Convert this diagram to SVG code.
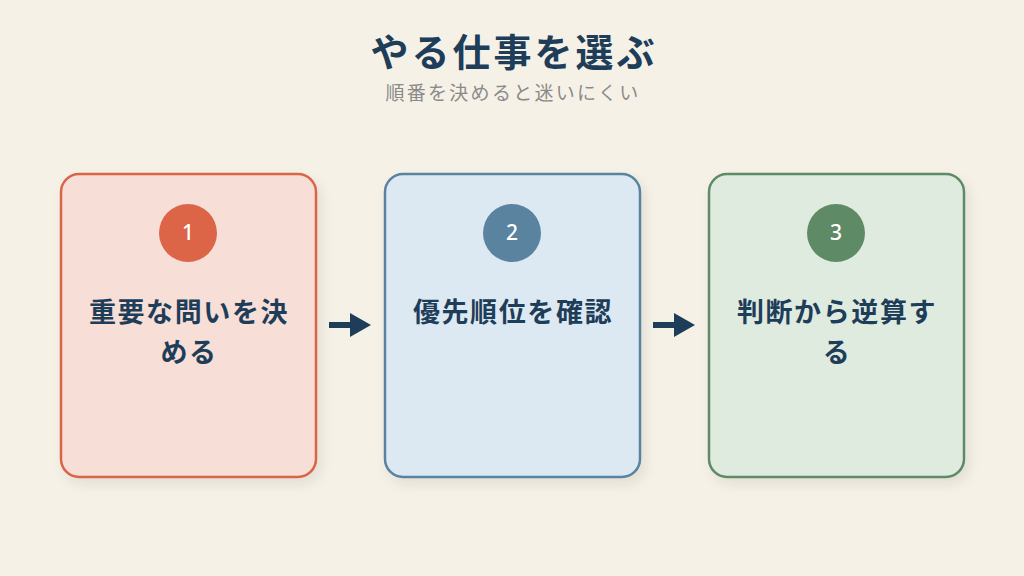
<svg xmlns="http://www.w3.org/2000/svg" width="1024" height="576" viewBox="0 0 1024 576">
<style>
.t{font-family:"Noto Sans CJK JP","Noto Sans",sans-serif;fill:#1e3d59;font-weight:bold;text-anchor:middle}
.sub{font-family:"Noto Sans CJK JP","Noto Sans",sans-serif;fill:#8a8a8a;text-anchor:middle;font-size:19px;letter-spacing:2.3px}
.num{font-family:"Noto Sans","Noto Sans CJK JP",sans-serif;fill:#fff;font-size:21px;font-weight:500;text-anchor:middle}
.lbl{font-size:27px;letter-spacing:1.6px}
.card{stroke-width:2.5}
</style>
<defs>
<filter id="sh" x="-10%" y="-10%" width="130%" height="130%">
<feDropShadow dx="4" dy="6" stdDeviation="6" flood-color="#000" flood-opacity="0.08"/>
</filter>
</defs>
<rect width="1024" height="576" fill="#f6f1e7"/>
<text class="t" x="514" y="66" font-size="38" letter-spacing="3">やる仕事を選ぶ</text>
<text class="sub" x="513" y="100">順番を決めると迷いにくい</text>
<g id="node1">
<rect class="card" x="61" y="174" width="255" height="303" rx="18" fill="#f7ded6" stroke="#d9654a" filter="url(#sh)"/>
<circle cx="188" cy="233" r="29" fill="#dc6548"/>
<text class="num" x="188" y="240">1</text>
<text class="t lbl" x="189" y="322">重要な問いを決</text>
<text class="t lbl" x="189" y="362">める</text>
</g>
<g id="node2">
<rect class="card" x="385" y="174" width="255" height="303" rx="18" fill="#dce9f2" stroke="#5a83a0" filter="url(#sh)"/>
<circle cx="512" cy="233" r="29" fill="#5a83a0"/>
<text class="num" x="512" y="240">2</text>
<text class="t lbl" x="513" y="322">優先順位を確認</text>
</g>
<g id="node3">
<rect class="card" x="709" y="174" width="255" height="303" rx="18" fill="#e0ebe0" stroke="#5e8a66" filter="url(#sh)"/>
<circle cx="836" cy="233" r="29" fill="#5e8a66"/>
<text class="num" x="836" y="240">3</text>
<text class="t lbl" x="837" y="322">判断から逆算す</text>
<text class="t lbl" x="837" y="362">る</text>
</g>
<g id="connectors" fill="#1e3d59">
<rect x="329" y="322" width="24" height="6"/>
<path d="M350,313 L371,325 L350,337 z"/>
<rect x="653" y="322" width="24" height="6"/>
<path d="M674,313 L695,325 L674,337 z"/>
</g>
</svg>
